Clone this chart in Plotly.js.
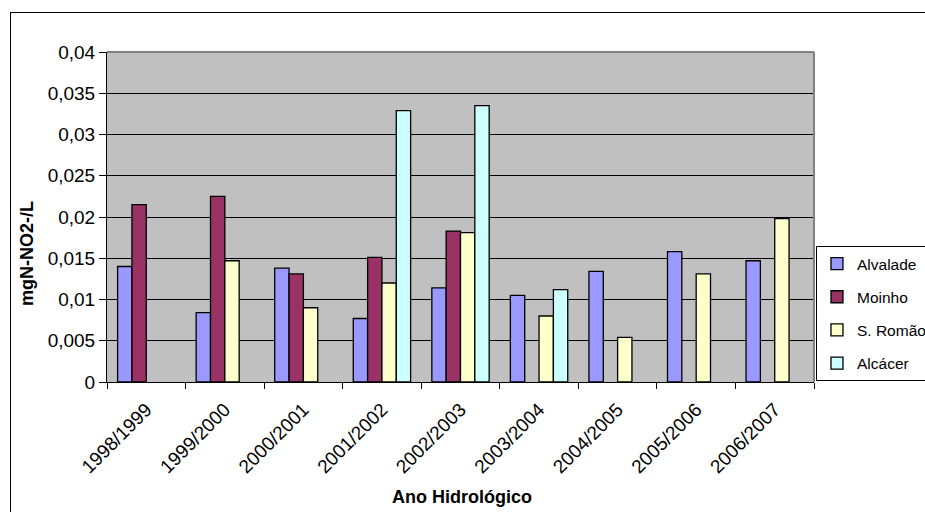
<!DOCTYPE html>
<html>
<head>
<meta charset="utf-8">
<script src="https://cdn.plot.ly/plotly-3.0.1.min.js"></script>
<style>
  html, body { margin: 0; padding: 0; background: #fff; }
  #wrap { position: relative; width: 925px; height: 512px; overflow: hidden; }
  #chart { width: 925px; height: 512px; }
  #frame { position: absolute; left: 10px; top: 12px; width: 940px; height: 520px;
           border: 1px solid #000; pointer-events: none; box-sizing: border-box; }
</style>
</head>
<body>
<div id="wrap">
  <div id="chart"></div>
  <div id="frame"></div>
</div>
<script>
const categories = ['1998/1999', '1999/2000', '2000/2001', '2001/2002', '2002/2003',
                    '2003/2004', '2004/2005', '2005/2006', '2006/2007'];
const alvalade = [0.0140, 0.0084, 0.0138, 0.0077, 0.0114, 0.0105, 0.0134, 0.0158, 0.0147];
const moinho   = [0.0215, 0.0225, 0.0131, 0.0151, 0.0183, null, null, null, null];
const sromao   = [null, 0.0147, 0.0090, 0.0120, 0.0181, 0.0080, 0.0054, 0.0131, 0.0198];
const alcacer  = [null, null, null, 0.0329, 0.0335, 0.0112, null, null, null];
const yTickVals = [0, 0.005, 0.01, 0.015, 0.02, 0.025, 0.03, 0.035, 0.04];
const yTickText = ['0', '0,005', '0,01', '0,015', '0,02', '0,025', '0,03', '0,035', '0,04'];

const FONT = 'Liberation Sans, Arial, sans-serif';
function bar(name, y, color, g) {
  return {
    type: 'bar', name: name, x: categories, y: y, legendgroup: g,
    marker: { color: color, line: { color: '#000', width: 1.3 } },
    hoverinfo: 'x+y+name'
  };
}
const data = [
  bar('Alvalade', alvalade, '#9999FF', 'a'),
  bar('Moinho', moinho, '#993366', 'b'),
  bar('S. Romão', sromao, '#FFFFCC', 'c'),
  bar('Alcácer', alcacer, '#CCFFFF', 'd')
];

const layout = {
  width: 925, height: 512,
  margin: { l: 107, r: 111, t: 52, b: 130, autoexpand: false },
  paper_bgcolor: '#ffffff',
  plot_bgcolor: '#C0C0C0',
  barmode: 'group', bargap: 0.27, bargroupgap: 0,
  font: { family: FONT, size: 19, color: '#000' },
  showlegend: true,
  legend: {
    x: 1.0028, xanchor: 'left', y: 0.412, yanchor: 'top',
    bgcolor: '#fff', bordercolor: '#000', borderwidth: 1,
    font: { family: FONT, size: 15.5, color: '#000' },
    traceorder: 'grouped', tracegroupgap: 10
  },
  xaxis: {
    type: 'category', tickson: 'boundaries', ticks: 'outside', ticklen: 6,
    tickcolor: '#000', tickangle: -45, showgrid: false, ticklabelstandoff: 8,
    showline: true, linecolor: '#000', linewidth: 1, automargin: false,
    tickfont: { family: FONT, size: 19, color: '#000' }
  },
  yaxis: {
    range: [0, 0.04], tickvals: yTickVals, ticktext: yTickText, automargin: false,
    ticks: 'outside', ticklen: 7, tickcolor: '#000',
    showgrid: true, gridcolor: '#000', gridwidth: 1,
    showline: true, linecolor: '#000', linewidth: 1, zeroline: false,
    tickfont: { family: FONT, size: 19, color: '#000' }
  },
  shapes: [
    { type: 'line', xref: 'paper', yref: 'paper', x0: 0, x1: 1, y0: 1, y1: 1,
      line: { color: '#808080', width: 2 } },
    { type: 'line', xref: 'paper', yref: 'paper', x0: 1, x1: 1, y0: 0, y1: 1,
      line: { color: '#808080', width: 2 } }
  ],
  annotations: [
    { text: '<b>mgN-NO2-/L</b>', xref: 'paper', yref: 'paper', x: -0.113, y: 0.388,
      textangle: -90, showarrow: false, xanchor: 'center', yanchor: 'middle',
      font: { family: FONT, size: 18, color: '#000' } },
    { text: '<b>Ano Hidrológico</b>', xref: 'paper', yref: 'paper', x: 0.502, y: -0.348,
      showarrow: false, xanchor: 'center', yanchor: 'middle',
      font: { family: FONT, size: 18, color: '#000' } }
  ]
};

Plotly.newPlot('chart', data, layout, { displayModeBar: false, staticPlot: true });
</script>
</body>
</html>
